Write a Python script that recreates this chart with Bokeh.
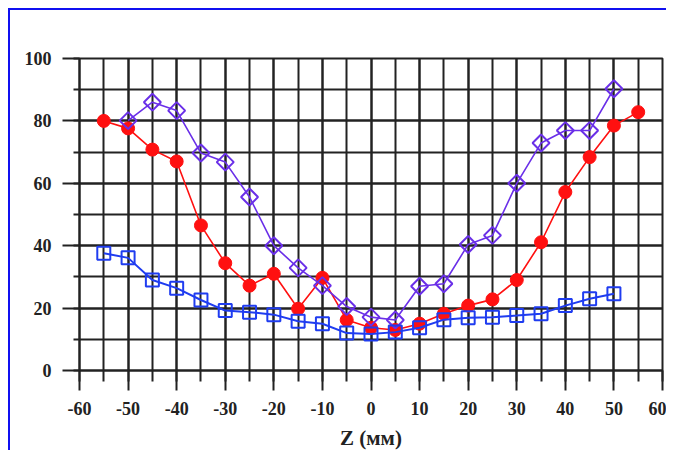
import math
from bokeh.plotting import figure
from bokeh.models import SingleIntervalTicker, Range1d, PrintfTickFormatter
from bokeh.embed import file_html
from bokeh.resources import INLINE

# Series A: red filled circles
z_red = [-55, -50, -45, -40, -35, -30, -25, -20, -15, -10, -5, 0, 5, 10, 15, 20, 25, 30, 35, 40, 45, 50, 55]
v_red = [80, 77.6, 70.8, 67, 46.5, 34.4, 27.2, 31, 19.8, 29.7, 16.2, 13.7, 13, 15, 18.2, 20.8, 22.8, 29, 41.1, 57.2, 68.4, 78.5, 82.8]

# Series B: purple open diamonds
z_purple = [-50, -45, -40, -35, -30, -25, -20, -15, -10, -5, 0, 5, 10, 15, 20, 25, 30, 35, 40, 45, 50]
v_purple = [80.1, 86, 83.3, 69.7, 66.8, 55.6, 40, 32.9, 27.2, 20.5, 17.1, 16.2, 27, 27.8, 40.4, 43.3, 60, 72.9, 76.9, 76.9, 90.3]

# Series C: blue open squares
z_blue = [-55, -50, -45, -40, -35, -30, -25, -20, -15, -10, -5, 0, 5, 10, 15, 20, 25, 30, 35, 40, 45, 50]
v_blue = [37.6, 36.1, 29, 26.4, 22.6, 19.2, 18.7, 17.9, 15.8, 15, 12, 11.7, 12.3, 13.7, 16.3, 16.9, 17.1, 17.6, 18.2, 20.8, 23, 24.6]

x_title = "Z (мм)"

GRID = "#222222"
RED = "#ff1010"
PURPLE = "#6a2fe8"
BLUE = "#1f3cf0"
FONT = "Liberation Serif"

p = figure(width=658, height=442, output_backend="svg", toolbar_location=None,
           x_range=Range1d(-60, 60), y_range=Range1d(0, 100),
           min_border_left=69, min_border_right=6, min_border_top=48, min_border_bottom=82,
           background_fill_color="white", border_fill_color="white")
p.styles = {"margin-left": "8px", "margin-top": "8px",
            "border-left": "2px solid #1010f0", "border-top": "2px solid #1010f0"}

p.outline_line_color = GRID
p.outline_line_width = 2

xt = SingleIntervalTicker(interval=10, num_minor_ticks=2)
yt = SingleIntervalTicker(interval=20, num_minor_ticks=2)
p.xaxis.ticker = xt
p.yaxis.ticker = yt
p.xgrid.ticker = xt
p.ygrid.ticker = yt
p.xaxis.formatter = PrintfTickFormatter(format="%d")
p.yaxis.formatter = PrintfTickFormatter(format="%d")

for g in (p.xgrid, p.ygrid):
    g.grid_line_color = GRID
    g.grid_line_width = 2
    g.minor_grid_line_color = GRID
    g.minor_grid_line_width = 2

for ax in (p.xaxis, p.yaxis):
    ax.axis_line_color = GRID
    ax.axis_line_width = 2
    ax.major_tick_line_color = GRID
    ax.major_tick_line_width = 2
    ax.minor_tick_line_color = GRID
    ax.minor_tick_line_width = 2
    ax.major_tick_in = 0
    ax.minor_tick_in = 0
    ax.major_label_text_font = FONT
    ax.major_label_text_font_style = "bold"
    ax.major_label_text_font_size = "18px"
    ax.major_label_text_color = "#222222"

p.xaxis.major_tick_out = 20
p.xaxis.minor_tick_out = 11
p.xaxis.major_label_standoff = 11
p.yaxis.major_tick_out = 17
p.yaxis.minor_tick_out = 6
p.yaxis.major_label_standoff = 11

p.xaxis.axis_label = x_title
p.xaxis.axis_label_text_font = FONT
p.xaxis.axis_label_text_font_style = "bold"
p.xaxis.axis_label_text_font_size = "21px"
p.xaxis.axis_label_text_color = "#222222"
p.xaxis.axis_label_standoff = 8

# red series
p.line(z_red, v_red, line_color=RED, line_width=1.6)
p.scatter(z_red, v_red, marker="circle", size=13, fill_color=RED, line_color=RED)

# purple series (diamonds = squares rotated 45 degrees)
p.line(z_purple, v_purple, line_color=PURPLE, line_width=1.6)
p.scatter(z_purple, v_purple, marker="square", angle=math.pi / 4, size=12,
          fill_color=None, line_color=PURPLE, line_width=2)

# blue series
p.line(z_blue, v_blue, line_color=BLUE, line_width=2)
p.scatter(z_blue, v_blue, marker="square", size=13, fill_color=None,
          line_color=BLUE, line_width=2)

open("out.html", "w").write(file_html(p, INLINE))
